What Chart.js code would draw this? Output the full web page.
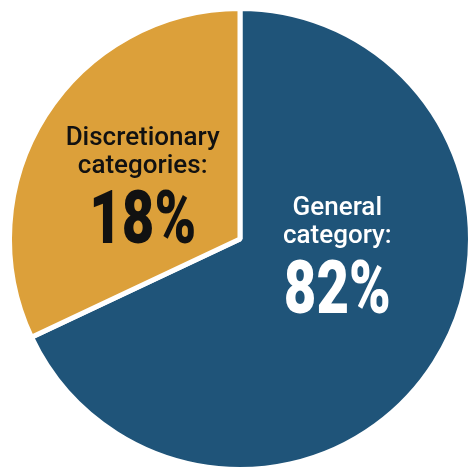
<!DOCTYPE html>
<html>
<head>
<meta charset="utf-8">
<script src="https://cdn.jsdelivr.net/npm/chart.js@4/dist/chart.umd.min.js"></script>
<style>
  html, body { margin: 0; padding: 0; background: #fff; overflow: hidden; }
  .wrap { position: relative; width: 480px; height: 480px; }
</style>
</head>
<body>
<div class="wrap"><canvas id="pieChart"></canvas></div>
<script>
// slice sizes as drawn in the picture (the printed labels say 82 / 18)
const categories = ['General category:', 'Discretionary categories:'];
const sliceValues = [68, 32];
const labelLines = [['General', 'category:'], ['Discretionary', 'categories:']];
const shareLabels = ['82%', '18%'];
const sliceColors = ['#1f5479', '#dca03a'];
const textColors = ['#ffffff', '#111111'];

// draws the text inside each slice, anchored on the slice centroid
const sliceText = {
  id: 'sliceText',
  afterDatasetsDraw(chart, args, opts) {
    const ctx = chart.ctx;
    const arcs = chart.getDatasetMeta(0).data;
    arcs.forEach((arc, i) => {
      const p = arc.tooltipPosition();
      const dy = opts.shiftY[i];
      ctx.save();
      ctx.fillStyle = textColors[i];
      ctx.textAlign = 'center';
      ctx.textBaseline = 'alphabetic';
      ctx.font = '500 26px Roboto';
      ctx.fillText(labelLines[i][0], p.x, p.y + dy - 32);
      ctx.fillText(labelLines[i][1], p.x, p.y + dy - 4);
      // condensed heavy figures
      ctx.translate(p.x, p.y + dy + 66);
      ctx.scale(0.76, 1);
      ctx.font = '900 74px Roboto';
      ctx.fillText(shareLabels[i], 0, 0);
      ctx.restore();
    });
  }
};

const ctx = document.getElementById('pieChart').getContext('2d');
const pieChart = new Chart(ctx, {
  type: 'pie',
  data: {
    labels: categories,
    datasets: [{
      data: sliceValues,
      backgroundColor: sliceColors,
      borderColor: '#ffffff',
      borderWidth: 5
    }]
  },
  options: {
    responsive: true,
    maintainAspectRatio: false,
    animation: false,
    layout: {
      padding: { left: 7, top: 6, right: 7, bottom: 8 }
    },
    plugins: {
      legend: { display: false },
      tooltip: { enabled: false },
      sliceText: { shiftY: [-54, 0] }
    }
  },
  plugins: [sliceText]
});
</script>
</body>
</html>
